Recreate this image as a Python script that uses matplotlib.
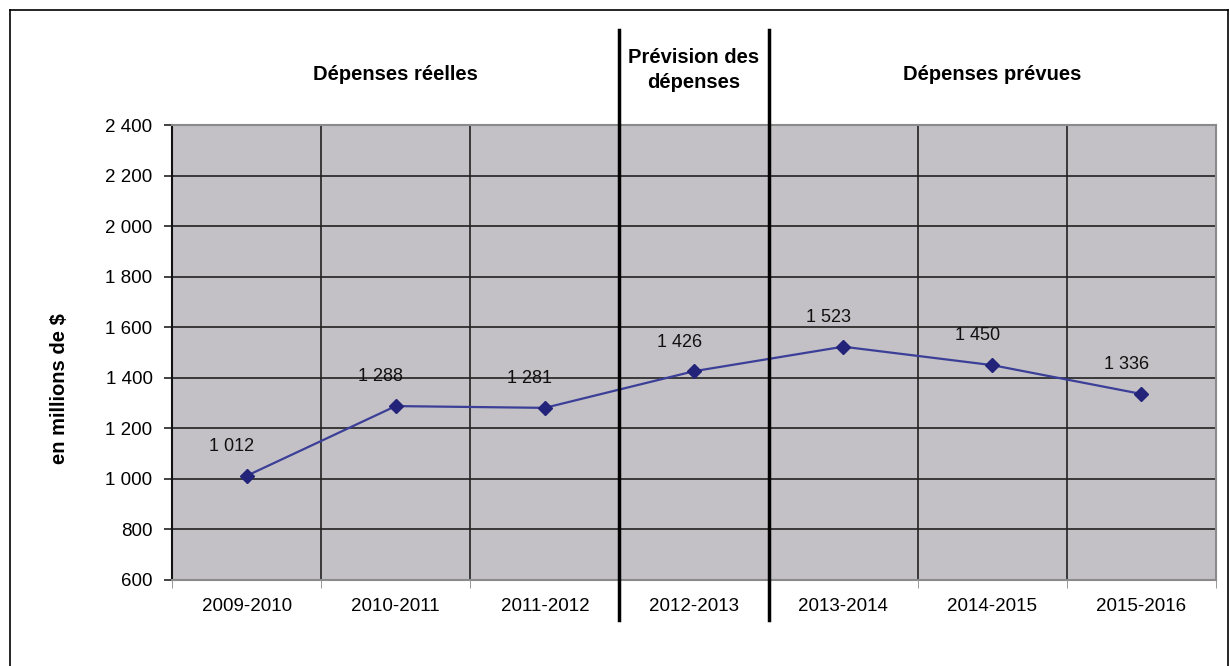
import matplotlib
matplotlib.use("Agg")
import matplotlib.pyplot as plt
from matplotlib.lines import Line2D

plt.rcParams["font.family"] = ["Liberation Sans", "DejaVu Sans"]

years = ["2009-2010", "2010-2011", "2011-2012", "2012-2013", "2013-2014", "2014-2015", "2015-2016"]
spending = [1012, 1288, 1281, 1426, 1523, 1450, 1336]
value_labels = ["1 012", "1 288", "1 281", "1 426", "1 523", "1 450", "1 336"]
y_ticks = [600, 800, 1000, 1200, 1400, 1600, 1800, 2000, 2200, 2400]
y_tick_labels = ["600", "800", "1 000", "1 200", "1 400", "1 600", "1 800", "2 000", "2 200", "2 400"]
sections = [("Dépenses réelles", 1.0), ("Prévision des\ndépenses", 3.0), ("Dépenses prévues", 5.0)]
dividers = [2.5, 3.5]

W, H = 1230, 666
fig = plt.figure(figsize=(W / 100, H / 100), dpi=100)
ax = fig.add_axes([172 / W, 86 / H, 1044 / W, 455 / H])
ax.set_facecolor("#C3C1C5")

x = list(range(len(years)))
ax.plot(x, spending, color="#3B3F98", linewidth=1.6, marker="D", markersize=7,
        markerfacecolor="#23237A", markeredgecolor="#23237A", zorder=4)
for xi, yi, lab in zip(x, spending, value_labels):
    ax.annotate(lab, (xi - 0.1, yi), xytext=(0, 21), textcoords="offset points",
                ha="center", va="center", fontsize=13, color="#111111", zorder=5)

ax.set_xlim(-0.5, len(years) - 0.5)
ax.set_ylim(600, 2400)
ax.set_yticks(y_ticks)
ax.set_yticklabels(y_tick_labels, fontsize=13.5)
ax.set_xticks(x)
ax.set_xticklabels(years, fontsize=13.5)
ax.tick_params(axis="x", length=0, pad=13)
ax.set_xticks([i + 0.5 for i in range(-1, len(years))], minor=True)
ax.tick_params(axis="x", which="minor", length=6, color="#888888")
ax.tick_params(axis="y", length=6, color="#222222", width=1.2, pad=8)

ax.grid(True, axis="y", color="#222222", linewidth=1.2, zorder=1)
ax.grid(True, axis="x", which="minor", color="#222222", linewidth=1.2, zorder=1)
ax.set_axisbelow(True)

ax.spines["left"].set_color("#111111")
ax.spines["left"].set_linewidth(1.5)
for side in ["top", "right", "bottom"]:
    ax.spines[side].set_color("#8A8A8A")
    ax.spines[side].set_linewidth(1.5)

ax.set_ylabel("en millions de $", fontsize=14.5, fontweight="bold")
ax.yaxis.set_label_coords(-0.099, 0.42)

for d in dividers:
    ax.axvline(d, ymin=(580 - 620) / 455, ymax=(580 - 30) / 455, color="black",
               linewidth=2.5, clip_on=False, zorder=6)

for text, xc in sections:
    y_px = 70 if "\n" in text else 75
    ax.text(xc, (580 - y_px) / 455, text, transform=ax.get_xaxis_transform(),
            ha="center", va="center", fontsize=14.5, fontweight="bold", linespacing=1.35)

# figure frame
fig.add_artist(Line2D([10 / W, 10 / W], [0, 1 - 10 / H], color="black", linewidth=1.2))
fig.add_artist(Line2D([10 / W, 1228 / W], [1 - 10 / H, 1 - 10 / H], color="black", linewidth=1.2))
fig.add_artist(Line2D([1228 / W, 1228 / W], [0, 1 - 10 / H], color="black", linewidth=1.2))

fig.savefig("out.png", dpi=100)
